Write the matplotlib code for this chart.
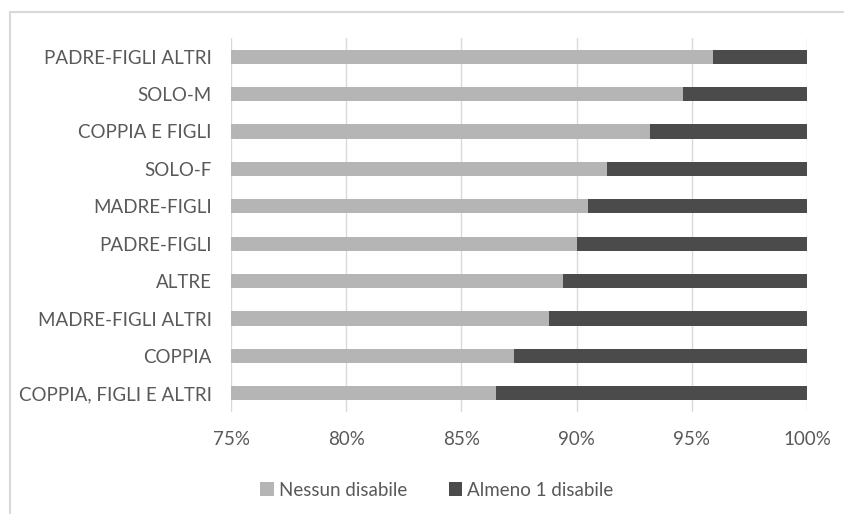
import matplotlib.pyplot as plt
import matplotlib.patches as mpatches
from matplotlib.ticker import FuncFormatter

# household types, bottom to top
famiglie = ['COPPIA, FIGLI E ALTRI', 'COPPIA', 'MADRE-FIGLI ALTRI', 'ALTRE',
            'PADRE-FIGLI', 'MADRE-FIGLI', 'SOLO-F', 'COPPIA E FIGLI',
            'SOLO-M', 'PADRE-FIGLI ALTRI']
nessun_disabile = [86.5, 87.3, 88.8, 89.4, 90.0, 90.5, 91.3, 93.2, 94.6, 95.9]
almeno_uno = [100 - v for v in nessun_disabile]

col_chiaro = '#b5b5b5'
col_scuro = '#4b4b4b'
col_testo = '#595959'

plt.rcParams['font.family'] = ['Lato', 'DejaVu Sans']

fig = plt.figure(figsize=(8.44, 5.14), dpi=100)
ax = fig.add_axes([231 / 844, 1 - 412 / 514, 576 / 844, 374 / 514])

# outer chart frame, running off the right and bottom edges
fig.patches.append(mpatches.Rectangle((10 / 844, -0.1), 1.1, 1 - 12 / 514 + 0.1,
                                      transform=fig.transFigure, fill=False,
                                      edgecolor='#d9d9d9', linewidth=1.5))

y = range(len(famiglie))
ax.barh(y, nessun_disabile, height=0.38, color=col_chiaro, label='Nessun disabile')
ax.barh(y, almeno_uno, left=nessun_disabile, height=0.38, color=col_scuro,
        label='Almeno 1 disabile')

ax.set_xlim(75, 100)
ax.set_ylim(-0.5, len(famiglie) - 0.5)
ax.set_xticks([75, 80, 85, 90, 95, 100])
ax.xaxis.set_major_formatter(FuncFormatter(lambda v, p: f'{v:.0f}%'))
ax.set_yticks(list(y))
ax.set_yticklabels(famiglie)

ax.grid(axis='x', color='#d9d9d9', linewidth=1)
ax.set_axisbelow(True)
for s in ax.spines.values():
    s.set_visible(False)
ax.tick_params(length=0, colors=col_testo, labelsize=13.5)
ax.tick_params(axis='x', pad=14)
ax.tick_params(axis='y', pad=14)

fig.legend(loc='center', bbox_to_anchor=(437 / 844, 1 - 490 / 514), ncol=2,
           frameon=False, fontsize=13.5, labelcolor=col_testo,
           handlelength=0.7, handleheight=0.7, handletextpad=0.3, columnspacing=2.2)

fig.savefig('out.png', dpi=100)
